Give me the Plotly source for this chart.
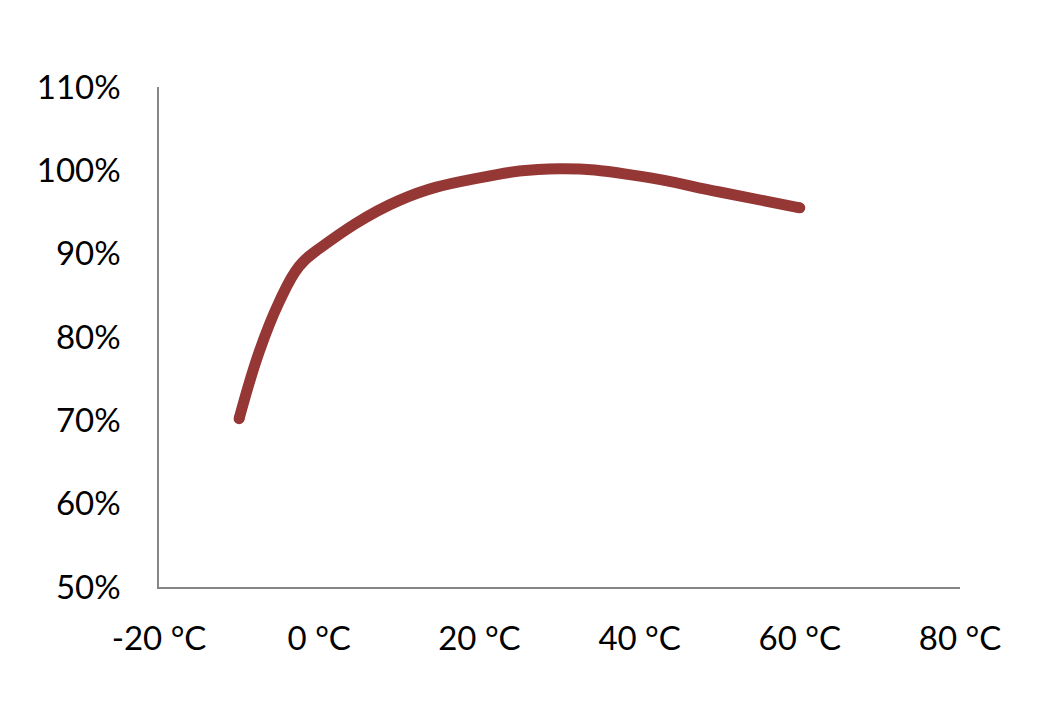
import plotly.graph_objects as go

temps = [-10, -7.5, -5, -2.5, 0, 10, 20, 30, 40, 50, 60]
capacity = [0.702, 0.782, 0.842, 0.885, 0.906, 0.964, 0.991, 1.002, 0.993, 0.974, 0.955]

x_ticks = [-20, 0, 20, 40, 60, 80]
x_tick_labels = ["-20 °C", "0 °C", "20 °C", "40 °C", "60 °C", "80 °C"]
y_ticks = [0.5, 0.6, 0.7, 0.8, 0.9, 1.0, 1.1]
y_tick_labels = ["50%", "60%", "70%", "80%", "90%", "100%", "110%"]

LINE_COLOR = "#953735"
LINE_W = 11

fig = go.Figure()
fig.add_trace(go.Scatter(
    x=temps, y=capacity, mode="lines",
    line=dict(color=LINE_COLOR, width=LINE_W, shape="spline", smoothing=1.2),
    hoverinfo="skip",
))
# round line caps at the two ends
fig.add_trace(go.Scatter(
    x=[temps[0], temps[-1]], y=[capacity[0], capacity[-1]], mode="markers",
    marker=dict(color=LINE_COLOR, size=LINE_W, line=dict(width=0)),
    hoverinfo="skip",
))

font = dict(family="Lato, 'Open Sans', sans-serif", size=33, color="#000000")
fig.update_layout(
    width=1049, height=703,
    margin=dict(l=151, r=97, t=79, b=124),
    paper_bgcolor="white", plot_bgcolor="white",
    showlegend=False,
    font=font,
    xaxis=dict(range=[-20, 80], tickvals=x_ticks, ticktext=x_tick_labels,
               showgrid=False, zeroline=False, showline=True,
               linecolor="#868686", linewidth=1.5, ticks="",
               ticklabelstandoff=22, tickfont=font),
    yaxis=dict(range=[0.5, 1.1], tickvals=y_ticks, ticktext=y_tick_labels,
               showgrid=False, zeroline=False, showline=True,
               linecolor="#868686", linewidth=1.5, ticks="",
               ticklabelstandoff=30, tickfont=font),
)

fig.write_html("out.html")
